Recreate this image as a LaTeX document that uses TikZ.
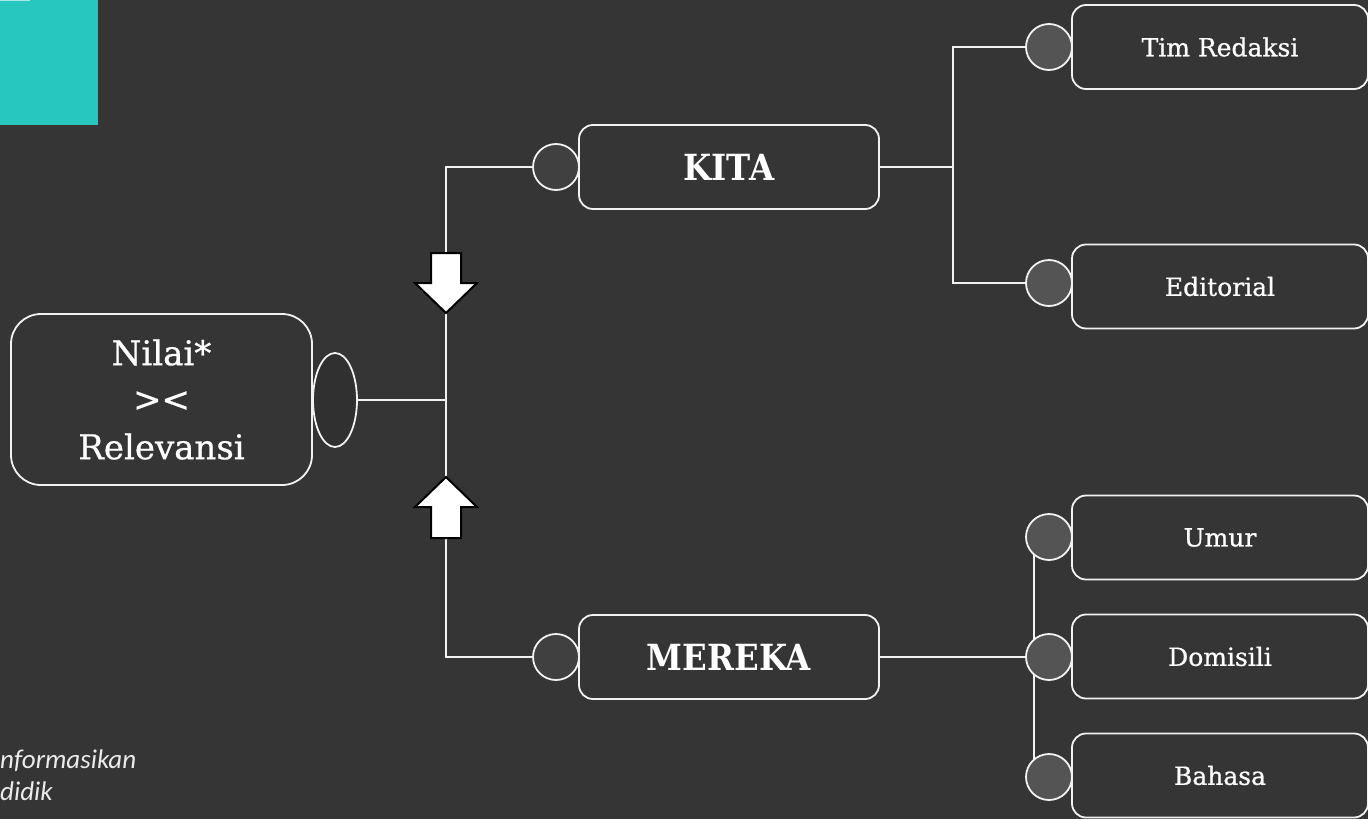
\documentclass[tikz,border=0pt]{standalone}
\usepackage{fontspec}
\setmainfont{DejaVu Serif}
\newfontfamily\labelfont[FakeBold=0.7]{DejaVu Serif}
\newfontfamily\slabcond[FakeStretch=0.9]{DejaVu Serif}
\newfontfamily\notefont{Carlito}
\usetikzlibrary{shapes.geometric,calc}
\definecolor{bgc}{HTML}{353535}
\definecolor{teal}{HTML}{27C6BF}
\definecolor{kcirc}{HTML}{404040}
\definecolor{rcirc}{HTML}{545454}
\definecolor{ellc}{HTML}{303030}
\definecolor{linec}{HTML}{F2F2F2}
\pgfdeclarelayer{bglayer}
\pgfdeclarelayer{linelayer}
\pgfsetlayers{bglayer,linelayer,main}
\tikzset{
  box/.style={draw=linec, line width=1.8pt, fill=bgc, rounded corners=14pt, text=white, inner sep=0pt},
  bigbox/.style={box, minimum width=300pt, minimum height=84pt, font=\slabcond\bfseries\fontsize{36}{40}\selectfont},
  leafbox/.style={box, minimum width=296pt, minimum height=84pt, font=\labelfont\fontsize{25}{30}\selectfont},
  dot/.style={circle, draw=linec, line width=1.8pt, minimum size=46pt, inner sep=0pt},
  conn/.style={draw=linec, line width=1.8pt},
  bigarrow/.style={fill=white, draw=black, line width=2pt, line join=miter},
}
\begin{document}
\begin{tikzpicture}[x=1pt,y=-1pt]
\useasboundingbox (0,0) rectangle (1368,819);
\clip (0,0) rectangle (1368,819);
\begin{pgfonlayer}{bglayer}
  \fill[bgc] (0,0) rectangle (1368,819);
  \fill[teal] (0,0) rectangle (98,125);
  \draw[line width=1pt, color=teal!40!white] (0,0.5) -- (30,0.5);
\end{pgfonlayer}

% left node
\node[box, rounded corners=30pt, minimum width=301pt, minimum height=171pt, align=center,
      font=\labelfont\fontsize{34}{48}\selectfont] (nilai) at (161.5,399.5) {Nilai*\\[-2pt]><\\Relevansi};
\node[ellipse, draw=linec, line width=1.8pt, fill=ellc, minimum width=44pt, minimum height=94pt, inner sep=0pt] (ell) at (335,400) {};

% middle nodes
\node[bigbox] (kita) at (729,167) {KITA};
\node[dot, fill=kcirc] (kc) at (556,167) {};
\node[bigbox] (mereka) at (729,657) {MEREKA};
\node[dot, fill=kcirc] (mc) at (556,657) {};

% right nodes
\node[leafbox] (tim) at (1220,47) {Tim Redaksi};
\node[dot, fill=rcirc] (tc) at (1049,47) {};
\node[leafbox] (edit) at (1220,286.5) {Editorial};
\node[dot, fill=rcirc] (ec) at (1049,283) {};
\node[leafbox] (umur) at (1220,537.5) {Umur};
\node[dot, fill=rcirc] (uc) at (1049,537) {};
\node[leafbox] (dom) at (1220,656.5) {Domisili};
\node[dot, fill=rcirc] (dc) at (1049,657) {};
\node[leafbox] (bah) at (1220,775.5) {Bahasa};
\node[dot, fill=rcirc] (bc) at (1049,777) {};

\coordinate (j) at (446,400);
\coordinate (ks) at (953,167);

\begin{pgfonlayer}{linelayer}
  \draw[conn] (ell.east) -- (j);
  \draw[conn] (kc.west) -| (j) |- (mc.west);
  \draw[conn] (kita.east) -- (ks);
  \draw[conn] (tc.west) -| (ks);
  \draw[conn] (ec.west) -| (ks);
  \draw[conn] (mereka.east) -- (dc.west);
  \draw[conn] ($(uc.center)+(-15,0)$) -- ($(bc.center)+(-15,0)$);
\end{pgfonlayer}

% block arrows
\draw[bigarrow] (431,253) -- (461,253) -- (461,283) -- (477,283) -- (446,313) -- (415,283) -- (431,283) -- cycle;
\draw[bigarrow] (446,477) -- (477,507) -- (461,507) -- (461,538) -- (431,538) -- (431,507) -- (415,507) -- cycle;

% note text at the lower left edge
\node[anchor=base west, inner sep=0pt, text=white!92!black, font=\notefont\itshape\fontsize{27}{32}\selectfont] (n1) at (0,768) {nformasikan};
\node[anchor=base west, inner sep=0pt, text=white!92!black, font=\notefont\itshape\fontsize{27}{32}\selectfont] (n2) at (0,800) {didik};
\end{tikzpicture}
\end{document}
